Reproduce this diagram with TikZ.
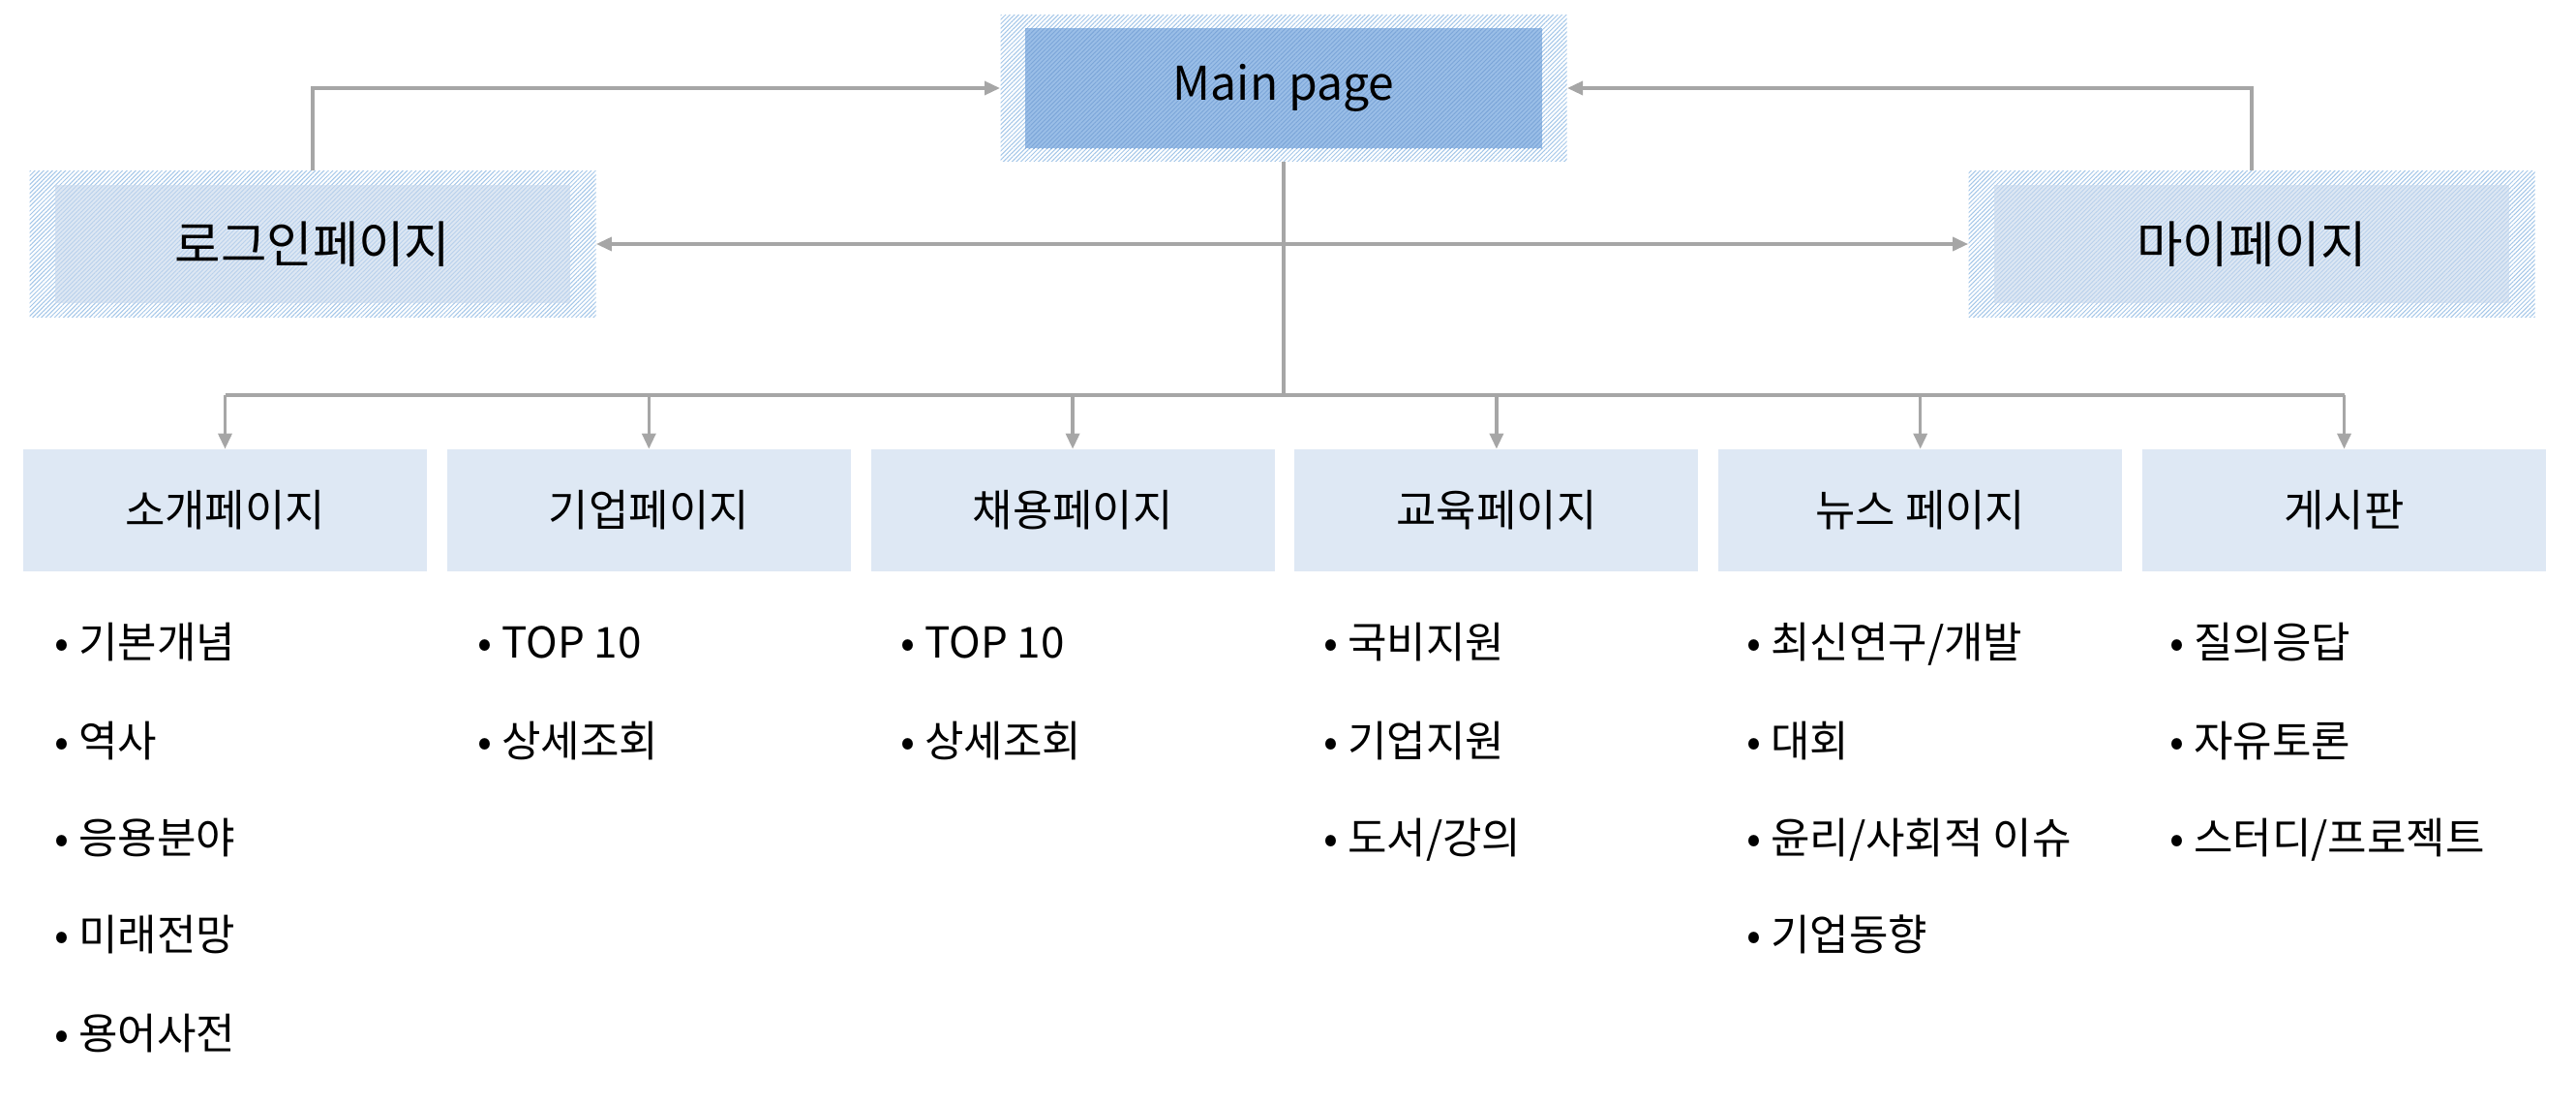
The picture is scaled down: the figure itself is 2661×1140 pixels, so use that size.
\documentclass[tikz,border=0pt]{standalone}
\usepackage{fontspec}
\setmainfont{Noto Sans CJK KR}
\usetikzlibrary{arrows.meta,patterns.meta,positioning}

\definecolor{linkgray}{HTML}{A6A6A6}
\definecolor{hatchblue}{HTML}{A3C6E8}
\definecolor{mainblue}{HTML}{9ABEE7}
\definecolor{mainline}{HTML}{7BA5D8}
\definecolor{sideblue}{HTML}{DDE7F3}
\definecolor{sideline}{HTML}{B8D0EC}
\definecolor{pageblue}{HTML}{DEE8F4}

\tikzset{
  link/.style={draw=linkgray, line width=1.7pt},
  tip/.style={-{Triangle[length=8pt,width=7pt]}},
  hatchbox/.style={minimum width=292.5pt, minimum height=75.5pt, inner sep=0pt,
    pattern={Lines[angle=45,distance=1.6pt,line width=0.5pt]}, pattern color=hatchblue},
  mainbox/.style={minimum width=267pt, minimum height=62pt, inner sep=0pt,
    preaction={fill=mainblue},
    pattern={Lines[angle=45,distance=1.6pt,line width=0.45pt]}, pattern color=mainline,
    font=\fontsize{24}{28}\selectfont},
  sidebox/.style={minimum width=266pt, minimum height=61pt, inner sep=0pt,
    preaction={fill=sideblue},
    pattern={Lines[angle=45,distance=1.6pt,line width=0.45pt]}, pattern color=sideline,
    font=\fontsize{25.8}{30}\selectfont},
  pagebox/.style={fill=pageblue, minimum width=208.5pt, minimum height=63pt, inner sep=0pt,
    font=\fontsize{22.5}{27}\selectfont},
  item/.style={anchor=west, inner sep=0pt, text height=0.8em, text depth=0.1em,
    font=\fontsize{22}{26}\selectfont}
}

\begin{document}
\begin{tikzpicture}[x=0.5pt,y=-0.5pt]
  \useasboundingbox (0,0) rectangle (2661,1140);

  % top row
  \node[hatchbox] (main) at (1326,91) {};
  \node[mainbox] (maintext) at (main) {Main page};
  \node[hatchbox] (login) at (323,252) {};
  \node[sidebox] (logintext) at (login) {로그인페이지};
  \node[hatchbox] (mypage) at (2326,252) {};
  \node[sidebox] (mypagetext) at (mypage) {마이페이지};

  % pages
  \node[pagebox] (intro) at (232.5,527) {소개페이지};
  \node[pagebox, right=10pt of intro] (company) {기업페이지};
  \node[pagebox, right=10pt of company] (recruit) {채용페이지};
  \node[pagebox, right=10pt of recruit] (edu) {교육페이지};
  \node[pagebox, right=10pt of edu] (news) {뉴스 페이지};
  \node[pagebox, right=10pt of news] (board) {게시판};

  % links
  \coordinate (bus) at (1326,408);
  \draw[link,tip] (login.north) |- (main.west);
  \draw[link,tip] (mypage.north) |- (main.east);
  \draw[link,{Triangle[length=8pt,width=7pt]}-{Triangle[length=8pt,width=7pt]}]
    (login.east) -- (mypage.west);
  \draw[link] (main.south) -- (bus);
  \draw[link] (intro.north |- bus) -- (board.north |- bus);
  \draw[link,tip] (intro.north |- bus) -- (intro.north);
  \draw[link,tip] (company.north |- bus) -- (company.north);
  \draw[link,tip] (recruit.north |- bus) -- (recruit.north);
  \draw[link,tip] (edu.north |- bus) -- (edu.north);
  \draw[link,tip] (news.north |- bus) -- (news.north);
  \draw[link,tip] (board.north |- bus) -- (board.north);

  % lists
  \node[item] (intro1) at (56,672) {• 기본개념};
  \node[item] (intro2) at (56,774) {• 역사};
  \node[item] (intro3) at (56,874) {• 응용분야};
  \node[item] (intro4) at (56,974) {• 미래전망};
  \node[item] (intro5) at (56,1076) {• 용어사전};

  \node[item] (company1) at (493,672) {• TOP 10};
  \node[item] (company2) at (493,774) {• 상세조회};

  \node[item] (recruit1) at (930,672) {• TOP 10};
  \node[item] (recruit2) at (930,774) {• 상세조회};

  \node[item] (edu1) at (1367,672) {• 국비지원};
  \node[item] (edu2) at (1367,774) {• 기업지원};
  \node[item] (edu3) at (1367,874) {• 도서/강의};

  \node[item] (news1) at (1804,672) {• 최신연구/개발};
  \node[item] (news2) at (1804,774) {• 대회};
  \node[item] (news3) at (1804,874) {• 윤리/사회적 이슈};
  \node[item] (news4) at (1804,974) {• 기업동향};

  \node[item] (board1) at (2241,672) {• 질의응답};
  \node[item] (board2) at (2241,774) {• 자유토론};
  \node[item] (board3) at (2241,874) {• 스터디/프로젝트};
\end{tikzpicture}
\end{document}
